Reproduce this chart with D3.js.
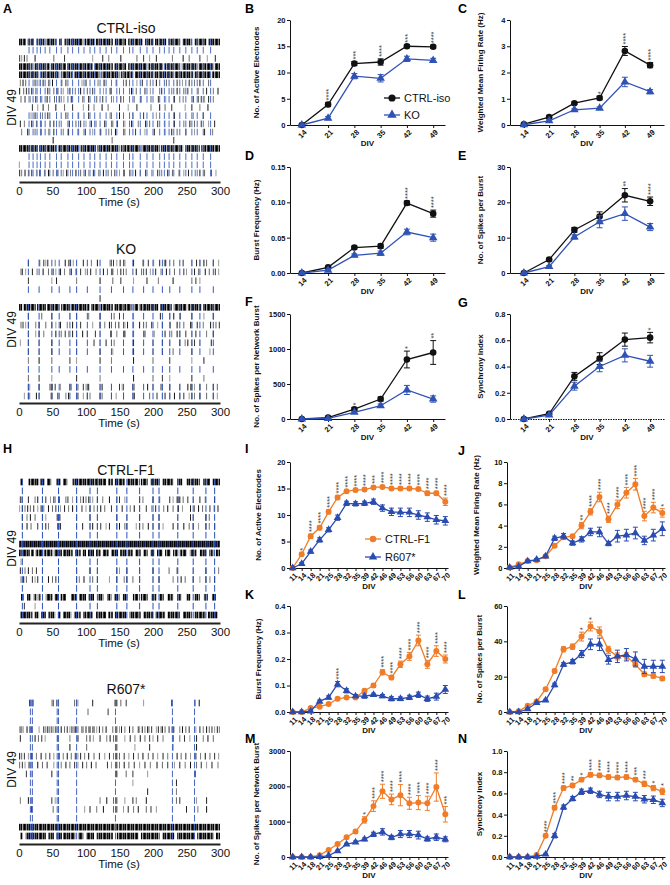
<!DOCTYPE html>
<html><head><meta charset="utf-8">
<script src="https://cdn.jsdelivr.net/npm/d3@7"></script>
<style>body{margin:0;background:#fff}svg{display:block}</style>
</head><body><script>
// ---------------- DATA ----------------
const divTop = [14,21,28,35,42,49];
const divBot = [11,14,18,21,25,28,32,35,39,42,46,49,53,56,60,63,67,70];
const legendTop = ["CTRL-iso","KO"];
const legendBot = ["CTRL-F1","R607*"];

// B
const ctrlB=[0,3.9,11.7,12.0,15.0,14.9], ctrlBe=[0.1,0.4,0.4,0.6,0.3,0.3];
const koB=[0,1.3,9.3,8.9,12.6,12.3], koBe=[0.1,0.3,0.5,0.7,0.5,0.4];
const starsB=['','****','***','****','***','****'];
// C
const ctrlC=[0.03,0.3,0.83,1.03,2.82,2.28], ctrlCe=[0.01,0.04,0.05,0.07,0.17,0.1];
const koC=[0.01,0.16,0.58,0.64,1.64,1.27], koCe=[0.01,0.03,0.04,0.05,0.18,0.08];
const starsC=['','','','*','****','****'];
// D
const ctrlD=[0,0.008,0.036,0.038,0.099,0.084], ctrlDe=[0,0.001,0.002,0.003,0.003,0.005];
const koD=[0,0.004,0.025,0.028,0.058,0.050], koDe=[0,0.001,0.002,0.003,0.004,0.005];
const starsD=['','','','','****','****'];
// E
const ctrlE=[0,3.8,12.2,16,22,20.3], ctrlEe=[0,0.4,0.7,1.3,1.9,1.2];
const koE=[0,1.8,10.2,14.5,16.8,13.0], koEe=[0,0.3,0.6,1.7,1.9,1.0];
const starsE=['','','','','**','****'];
// F
const ctrlF=[0,20,140,285,850,950], ctrlFe=[0,8,25,30,120,170];
const koF=[0,8,95,190,415,285], koFe=[0,4,15,25,65,45];
const starsF=['','','*','','*','**'];
// G
const ctrlG=[0,0.04,0.325,0.46,0.605,0.62], ctrlGe=[0,0.006,0.03,0.045,0.05,0.04];
const koG=[0,0.03,0.25,0.4,0.485,0.44], koGe=[0,0.005,0.03,0.04,0.05,0.045];
const starsG=['','','','','','*'];

// I
const ctrlI=[0,2.6,6.0,7.6,10.6,13.3,14.5,14.7,14.8,15.2,15.3,15.0,15.0,15.0,14.9,14.1,14.1,12.5];
const ctrlIe=[0,0.3,0.4,0.4,0.4,0.4,0.3,0.3,0.3,0.3,0.3,0.3,0.3,0.3,0.3,0.4,0.4,0.7];
const koI=[0,0.8,3.1,5.3,7.2,9.5,12.2,12.1,12.2,12.5,11.3,10.6,10.5,10.5,10.0,9.6,9.1,8.9];
const koIe=[0,0.2,0.3,0.4,0.4,0.5,0.4,0.4,0.4,0.5,0.6,0.7,0.8,0.8,0.8,0.8,0.8,0.8];
const starsI=['','*','****','****','****','****','****','****','****','***','****','****','****','****','****','****','****','****'];
// J
const ctrlJ=[0.05,0.35,0.65,0.72,1.1,2.1,2.9,3.0,4.0,5.3,6.7,4.6,6.0,7.1,7.9,4.9,5.7,5.2];
const ctrlJe=[0.02,0.05,0.08,0.08,0.1,0.15,0.15,0.15,0.3,0.3,0.45,0.3,0.4,0.5,0.55,0.45,0.5,0.4];
const koJ=[0.05,0.15,0.65,0.8,1.1,2.8,3.0,2.35,2.7,3.4,3.4,2.3,3.0,3.1,3.3,2.6,3.1,3.7];
const koJe=[0.02,0.05,0.08,0.1,0.1,0.2,0.25,0.2,0.25,0.35,0.45,0.2,0.55,0.55,0.55,0.4,0.55,0.65];
const starsJ=['','','','','','','','','**','****','****','****','****','****','****','****','****','*'];
// K
const ctrlK=[0,0,0.015,0.02,0.03,0.05,0.055,0.055,0.08,0.10,0.15,0.13,0.18,0.21,0.27,0.18,0.23,0.20];
const ctrlKe=[0,0,0.002,0.003,0.004,0.005,0.005,0.005,0.006,0.007,0.01,0.008,0.012,0.015,0.02,0.015,0.02,0.015];
const koK=[0,0,0.003,0.04,0.055,0.105,0.08,0.06,0.06,0.065,0.06,0.05,0.05,0.055,0.065,0.05,0.058,0.085];
const koKe=[0,0,0.002,0.005,0.006,0.01,0.008,0.006,0.008,0.006,0.006,0.008,0.007,0.008,0.01,0.01,0.013,0.015];
const starsK=['','','','','','****','','','','','****','****','****','****','****','****','****','****'];
// L
const ctrlL=[0,0.5,3.5,6,12.9,23.2,35.5,37,42.7,48.4,45.6,35.2,31.5,31.5,26.9,21.4,20.4,19];
const ctrlLe=[0,0.2,0.5,0.6,0.8,1,1.5,1.5,2.5,2.5,2.5,2,2,2,1.5,1.2,1.2,1.2];
const koL=[0,0,1.7,5.2,6.6,15.3,26.9,28.4,32.8,38.3,38.3,29.6,31.5,32.4,30,25.8,25.8,25.8];
const koLe=[0,0,0.4,0.5,0.6,1,1,1.2,2,3,3.5,2.5,3.5,3.5,4,4,3.5,3.5];
const starsL=['','','','','','','','','*','*','','','','','','','',''];
// M
const ctrlM=[0,0,0,50,200,370,560,720,1050,1440,1860,1630,1750,1520,1540,1520,1980,1210];
const ctrlMe=[0,0,0,10,20,30,40,50,90,150,200,150,300,170,200,200,400,220];
const koM=[0,0,0,5,40,170,360,420,500,640,710,550,650,650,620,510,560,500];
const koMe=[0,0,0,3,10,20,30,35,40,60,90,60,100,100,110,60,90,70];
const starsM=['','','','','','','','','*','****','****','****','****','****','****','****','****','***'];
// N
const ctrlN=[0,0,0,0.02,0.2,0.465,0.65,0.675,0.73,0.775,0.77,0.755,0.75,0.755,0.73,0.69,0.65,0.62];
const ctrlNe=[0,0,0,0.005,0.015,0.02,0.02,0.02,0.02,0.02,0.02,0.02,0.02,0.02,0.02,0.025,0.025,0.03];
const koN=[0,0,0,0.005,0.025,0.2,0.47,0.55,0.615,0.625,0.59,0.57,0.57,0.58,0.57,0.545,0.54,0.51];
const koNe=[0,0,0,0.003,0.01,0.02,0.02,0.02,0.025,0.025,0.03,0.04,0.04,0.04,0.04,0.035,0.035,0.035];
const starsN=['','','','','****','****','****','**','*','****','****','****','****','****','***','***','*','*'];

// ---------- Raster data (spike times in s) ----------
const rasterTicks=[0,50,100,150,200,250,300];
// CTRL-iso
const isoNB=[15,21,27,32,39,46,56,63,73,80,89,97,106,113,121,130,138,146,156,165,170,181,191,200,210,217,224,231,240,249,258,266,275,286];
const isoNBrows=[0,1,3,4,5,6,7,9,10,11,13,14,15,16];
const isoRows=[
 [],[],
 [1,4,8,12,24,52,68,110,125,134,152,176,186,195,205,229,245,254,270,281,293],
 [],[],
 [2,6,10,24,30,36,44,50,64,70,94,100,118,127,145,160,176,184,196,205,220,236,244,254,262,270,283],
 [1,7,11,14,19,25,43,52,58,66,76,84,92,102,110,126,136,150,168,175,188,196,213,228,236,246,252,268,280,290,297],
 [3,9,17,25,34,42,53,60,67,78,95,104,116,125,141,152,172,182,197,208,219,232,245,260,268,272,277,283,290],
 [20,28,36,44,55,68,80,96,104,112,124,133,150,163,176,197,210,218,228,248,258,270,282],
 [18,24,35,43,56,70,88,104,136,150,170,186,205,232,260,275],
 [2,8,19,26,33,47,52,60,75,85,92,100,108,115,128,140,147,158,168,178,189,195,207,218,232,246,255,262,272,283,292],
 [4,13,24,33,44,52,66,74,88,99,110,122,134,144,158,174,188,202,218,228,236,249,262,277,289],
 [51,139,231],
 [],[],[0.5],
 [1,4,9,14,19,26,31,38,44,51,58,66,71,77,85,92,99,104,111,119,126,133,143,150,157,167,174,181,189,198,207,213,222,229,239,246,253,263,270,277,287,294]
];
const isoDense=[
 [0,0,10],[0,13,22],[0,26,38],[0,40,55],[0,60,64],[0,68,95],[0,98,112],[0,115,140],[0,143,160],[0,163,185],[0,188,200],[0,203,220],[0,223,240],[0,244,258],[0,262,280],[0,283,300],
 [3,0,20],[3,23,45],[3,48,70],[3,72,88],[3,90,110],[3,113,140],[3,142,160],[3,163,190],[3,193,215],[3,218,240],[3,243,265],[3,268,290],[3,292,300],
 [4,0,30],[4,33,60],[4,63,80],[4,82,120],[4,123,150],[4,152,170],[4,173,200],[4,202,230],[4,233,260],[4,262,285],[4,288,300],
 [13,0,28],[13,30,56],[13,58,90],[13,92,115],[13,117,150],[13,152,180],[13,183,210],[13,212,245],[13,248,270],[13,272,300]
];
// KO
const koNB=[14,30,49,60,76,86,102,121,138,156,170,186,200,214,225,240,258,270,290];
const koNBrows=[0,1,3,5,6,7,8,9,10,12,14,15];
const koRows=[
 [14,31,37,40,43,54,69,74,77,81,96,108,117,136,141,146,151,158,171,185,193,201,210,217,219,231,245,258,265,270,276,280,290,298],
 [3,5,10,20,27,36,44,51,55,62,68,78,85,92,99,107,115,126,132,140,147,152,160,175,183,190,196,204,212,220,232,246,250,262,268,278,284,293,298],
 [14,49,56,86,121,140,152,171,191,208,230,258,264,270],
 [],
 [121],
 [],
 [14,34,49,76,86,104,121,142,150,171,211,225,231,241,258,276,290],
 [3,6,10,14,25,30,40,49,55,62,72,80,86,92,110,121,128,135,144,149,158,162,171,180,190,198,207,214,226,236,246,256,258,266,275,286,294,299],
 [14,25,30,37,55,63,69,74,80,86,95,102,114,121,137,146,158,171,188,202,218,228,236,240,249,258,264,280,290],
 [2,14,30,49,86,112,121,130,142,171,200,214,225,240,248,252,258,262,270,287],
 [14,30,49,86,121,140,171,200,214,230,258,285],
 [14,30,49,76,86,121,138,171,200,225,258,276],
 [],
 [14,30,49,86,121,171,200,214,225,258,276],
 [14,16,30,46,48,50,54,62,76,78,86,88,96,100,104,121,124,138,150,154,170,172,192,200,212,214,225,240,252,256,258,262,270,280,290,296],
 [8,14,16,26,30,48,50,58,70,74,86,88,96,102,106,121,124,138,145,156,170,172,195,206,214,218,225,232,240,246,254,258,262,270,280,290,296]
];
const koDense=[[5,0,5],[5,7,25],[5,27,40],[5,42,60],[5,63,76],[5,78,105],[5,108,120],[5,122,140],[5,142,168],[5,171,178],[5,180,208],[5,211,228],[5,231,250],[5,252,272],[5,275,300]];
// CTRL-F1
const f1NB=[5,35,59,86,106,117,146,161,180,200,209,237,260,279,292];
const f1NBrows=[0,1,2,3,4,5,6,7,8,9,10,11,12,13,14,15];
const f1Rows=[
 [],[],
 [2,4,14,24,28,35,40,47,52,54,60,70,73,80,86,92,96,100,104,110,117,125,135,146,150,158,180,185,200,210,225,230,236,238,240,245,252,260,270,278,292],
 [1,5,9,13,17,22,28,33,37,44,50,55,62,68,74,80,86,94,100,106,112,122,128,138,146,154,166,172,180,190,198,204,216,222,230,238,244,256,262,268,274,285,291,297],
 [5,12,17,24,35,40,57,59,61,86,106,117,146,161,180,200,209,237,256,260,279,284],
 [5,12,18,28,35,40,44,58,60,62,86,95,106,110,117,122,130,135,146,150,158,161,175,180,185,193,200,209,215,230,237,246,254,260,268,279,284,292],
 [],[],[],
 [3],
 [2,9,14,20,26,35,59,86,106,117,146,150,161,180,200,224,236,260,279,298],
 [3,7,11,20,24,28,35,44,50,55,59,86,90,97,110,117,135,146,157,161,170,180,200,209,230,242,248,260,270,279,285,292],
 [],[],
 [8,24],
 []
];
const f1Dense=[
 [0,2,6],[0,14,30],[0,32,38],[0,42,48],[0,56,62],[0,66,72],[0,80,130],[0,133,140],[0,143,158],[0,162,178],[0,182,192],[0,196,210],[0,214,230],[0,236,244],[0,250,270],[0,275,285],[0,289,300],
 [8,0,4],[8,6,16],[8,18,22],[8,25,35],[8,37,50],[8,52,58],[8,60,64],[8,66,80],[8,84,92],[8,95,100],[8,103,112],[8,115,122],[8,125,134],[8,138,148],[8,151,160],[8,163,170],[8,174,182],[8,186,192],[8,196,202],[8,206,214],[8,218,226],[8,230,236],[8,240,250],[8,255,265],[8,270,280],[8,284,290],[8,294,300],
 [13,3,7],[13,12,18],[13,22,26],[13,28,32],[13,40,50],[13,53,58],[13,62,70],[13,78,86],[13,90,100],[13,104,112],[13,118,126],[13,132,138],[13,142,150],[13,155,162],[13,170,178],[13,182,192],[13,198,205],[13,210,216],[13,222,230],[13,236,242],[13,250,256],[13,262,270],[13,276,282],[13,288,294],
 [15,2,20],[15,23,30],[15,33,40],[15,44,54],[15,58,62],[15,66,78],[15,82,92],[15,96,110],[15,115,130],[15,133,140],[15,143,160],[15,165,182],[15,186,200],[15,204,218],[15,222,240],[15,245,258],[15,262,278],[15,282,296]
];
const f1DenseBlue=[[7,0,300]];
// R607*
const rNB=[17,20,57,59,86,144,229,262];
const rNBrows=[0,1,2,3,4,5,6,7,8,9,10,11,12,13,14,15];
const rRows=[
 [16,19,21,49,51,56,59,83,86,88,110,143,146,152,160,186,228,263,269],
 [103,133],
 [],
 [1,3,6,12,16,19,30,37,40,43,46,49,52,55,59,63,68,72,76,79,82,84,88,94,96,100,104,106,110,112,116,120,125,130,140,146,150,153,158,165,170,178,180,184,188,192,194,198,205,208,212,214,218,224,228,231,240,244,249,254,264,270,275,280,284,288,292,296,299],
 [2,17,24,29,34,39,58,76,88,101,106,111,121,131,136,141,146,158,166,173,181,188,195,200,207,215,230,240,247,255,265,275,282,290],
 [59,76,101,146,173,195,230,265],
 [1,4,8,14,19,26,33,40,46,52,60,66,72,78,84,88,92,98,104,112,120,128,135,141,146,150,157,164,171,178,185,193,200,207,215,222,236,242,249,256,264,271,278,285,292,298],
 [1,5,9,15,19,28,35,42,52,59,63,70,76,83,88,95,101,108,115,132,138,146,150,157,164,172,180,188,196,206,214,222,232,240,248,256,265,272,280,288,297],
 [11,19,49,59,146,160,170,192,263],
 [170,235],
 [192,235],
 [2,14,19,49,54,59,121,131,141,146,158,170,175,190,235,240,265,280],
 [19,51,59,98,106,116,126,141,146,156,163,171,178,190,197,205,250,267,280],
 [],[],[]
];
const rDense=[[14,0,300],[15,2,6],[15,10,40],[15,44,52],[15,56,64],[15,66,84],[15,88,96],[15,100,112],[15,116,140],[15,146,178],[15,182,210],[15,214,232],[15,236,262],[15,266,290],[15,294,300]];

// ---------------- DRAWING ----------------
const FONT="'Liberation Sans', Arial, Helvetica, sans-serif";
const BLACK='#111', KOBLUE='#2f53b5', ORANGE='#f07c28', RBLUE='#2a4bb0';
const svg=d3.select('body').append('svg').attr('width',670).attr('height',885).style('font-family',FONT);
svg.append('rect').attr('width',670).attr('height',885).attr('fill','#fff');
const defs=svg.append('defs');
function mkPattern(id,cols){
  const p=defs.append('pattern').attr('id',id).attr('patternUnits','userSpaceOnUse').attr('width',cols.length).attr('height',10);
  cols.forEach((c,i)=>p.append('rect').attr('x',i).attr('width',1).attr('height',10).attr('fill',c));
}
mkPattern('dense',['#000','#222','#888','#111','#555','#000','#aaa','#333']);
mkPattern('denseBlue',['#0d1a55','#2a4bb0','#000','#1d3590','#111','#3a5bc0','#000','#22307a']);

function letter(t,x,y){svg.append('text').attr('x',x).attr('y',y).attr('font-weight','bold').attr('font-size',12.5).attr('fill','#000').text(t);}

function chart(p){
  const x=d3.scalePoint().domain(p.cats).range([p.x0,p.x1]).padding(p.pad);
  const y=d3.scaleLinear().domain([0,p.ymax]).range([p.y1,p.y0]);
  const g=svg.append('g');
  const ya=g.append('g').attr('transform',`translate(${p.x0},0)`)
    .call(d3.axisLeft(y).tickValues(p.ticks).tickFormat(d3.format(p.fmt)).tickSize(3).tickPadding(1.5).tickSizeOuter(0));
  const xa=g.append('g').attr('transform',`translate(0,${p.y1})`)
    .call(d3.axisBottom(x).tickSize(3).tickSizeOuter(0));
  xa.selectAll('text').attr('y',0).attr('dy','0.35em').attr('text-anchor','middle')
    .attr('transform','translate(0,9) rotate(-45)');
  [ya,xa].forEach(a=>{
    a.selectAll('.domain,.tick line').attr('stroke',BLACK).attr('stroke-width',1);
    a.selectAll('text').attr('font-family',FONT).attr('font-weight','bold').attr('font-size',7.5).attr('fill',BLACK);
  });
  if(p.dotted) xa.select('.domain').attr('stroke-dasharray','1.5,1');
  g.append('text').attr('transform',`translate(${p.ylx},${(p.y0+p.y1)/2}) rotate(-90)`)
    .attr('text-anchor','middle').attr('font-weight','bold').attr('font-size',8).attr('fill',BLACK).text(p.ylabel);
  g.append('text').attr('x',(p.x0+p.x1)/2).attr('y',p.y1+21).attr('text-anchor','middle')
    .attr('font-weight','bold').attr('font-size',8).attr('fill',BLACK).text('DIV');
  const cw=p.cap;
  p.series.forEach(s=>{
    const pts=p.cats.map((c,i)=>({c,v:s.v[i],e:s.e[i]}));
    const eg=g.append('g').attr('stroke',s.color).attr('stroke-width',1);
    eg.selectAll('line.v').data(pts.filter(d=>d.e>0)).join('line')
      .attr('x1',d=>x(d.c)).attr('x2',d=>x(d.c)).attr('y1',d=>y(Math.max(0,d.v-d.e))).attr('y2',d=>y(d.v+d.e));
    eg.selectAll('line.t').data(pts.filter(d=>d.e>0)).join('line')
      .attr('x1',d=>x(d.c)-cw).attr('x2',d=>x(d.c)+cw).attr('y1',d=>y(d.v+d.e)).attr('y2',d=>y(d.v+d.e));
    eg.selectAll('line.b').data(pts.filter(d=>d.e>0&&d.v-d.e>0)).join('line')
      .attr('x1',d=>x(d.c)-cw).attr('x2',d=>x(d.c)+cw).attr('y1',d=>y(d.v-d.e)).attr('y2',d=>y(d.v-d.e));
    g.append('path').datum(pts).attr('d',d3.line().x(d=>x(d.c)).y(d=>y(d.v)))
      .attr('fill','none').attr('stroke',s.color).attr('stroke-width',1.3);
    g.append('g').selectAll('path').data(pts).join('path')
      .attr('transform',d=>`translate(${x(d.c)},${y(d.v)})`)
      .attr('d',d3.symbol(s.shape,s.size)).attr('fill',s.color);
  });
  const st=p.cats.map((c,i)=>({c,s:p.stars[i],top:d3.max(p.series,s=>s.v[i]+s.e[i])})).filter(d=>d.s);
  g.append('g').selectAll('text').data(st).join('text')
    .attr('transform',d=>`translate(${x(d.c)+3.2},${y(d.top)-2}) rotate(-90)`)
    .attr('font-size',7.5).attr('fill','#333').text(d=>d.s);
  if(p.legend){
    const L=p.legend;
    L.labels.forEach((lab,i)=>{
      const s=p.series[i]; const yy=L.y+i*L.dy;
      g.append('line').attr('x1',L.x-8).attr('x2',L.x+8).attr('y1',yy).attr('y2',yy).attr('stroke',s.color).attr('stroke-width',1.3);
      g.append('path').attr('transform',`translate(${L.x},${yy})`).attr('d',d3.symbol(s.shape,s.size*1.2)).attr('fill',s.color);
      g.append('text').attr('x',L.x+12).attr('y',yy+4).attr('font-size',11).attr('fill','#111').text(lab);
    });
  }
}

const cir=d3.symbolCircle, tri=d3.symbolTriangle;
function topSeries(c,ce,k,ke){return [{v:c,e:ce,color:BLACK,shape:cir,size:34},{v:k,e:ke,color:KOBLUE,shape:tri,size:32}];}
function botSeries(c,ce,k,ke){return [{v:c,e:ce,color:ORANGE,shape:cir,size:28},{v:k,e:ke,color:RBLUE,shape:tri,size:26}];}

const L1={x0:290,x1:445,pad:0.45}, R1={x0:510,x1:664,pad:0.55};
const L2={x0:290,x1:448,pad:0.3}, R2={x0:507,x1:665,pad:0.3};
const rowsTop=[[20,125],[167,273],[314,419]];
const rowsBot=[[462,568],[606,712],[751,857]];

chart({...L1,cats:divTop,y0:rowsTop[0][0],y1:rowsTop[0][1],ymax:20,ticks:[0,5,10,15,20],fmt:'d',ylabel:'No. of Active Electrodes',ylx:259,cap:3,series:topSeries(ctrlB,ctrlBe,koB,koBe),stars:starsB,legend:{labels:legendTop,x:392,y:98,dy:17}});
chart({...R1,cats:divTop,y0:rowsTop[0][0],y1:rowsTop[0][1],ymax:4,ticks:[0,1,2,3,4],fmt:'d',ylabel:'Weighted Mean Firing Rate (Hz)',ylx:483,cap:3,series:topSeries(ctrlC,ctrlCe,koC,koCe),stars:starsC});
chart({...L1,cats:divTop,y0:rowsTop[1][0],y1:rowsTop[1][1],ymax:0.15,ticks:[0,0.05,0.1,0.15],fmt:'.2f',ylabel:'Burst Frequency (Hz)',ylx:259,cap:3,series:topSeries(ctrlD,ctrlDe,koD,koDe),stars:starsD});
chart({...R1,cats:divTop,y0:rowsTop[1][0],y1:rowsTop[1][1],ymax:30,ticks:[0,10,20,30],fmt:'d',ylabel:'No. of Spikes per Burst',ylx:483,cap:3,series:topSeries(ctrlE,ctrlEe,koE,koEe),stars:starsE});
chart({...L1,cats:divTop,y0:rowsTop[2][0],y1:rowsTop[2][1],ymax:1500,ticks:[0,500,1000,1500],fmt:'d',ylabel:'No. of Spikes per Network Burst',ylx:259,cap:3,series:topSeries(ctrlF,ctrlFe,koF,koFe),stars:starsF});
chart({...R1,cats:divTop,y0:rowsTop[2][0],y1:rowsTop[2][1],ymax:0.8,ticks:[0,0.2,0.4,0.6,0.8],fmt:'.1f',ylabel:'Synchrony Index',ylx:483,cap:3,dotted:true,series:topSeries(ctrlG,ctrlGe,koG,koGe),stars:starsG});

chart({...L2,cats:divBot,y0:rowsBot[0][0],y1:rowsBot[0][1],ymax:20,ticks:[0,5,10,15,20],fmt:'d',ylabel:'No. of Active Electrodes',ylx:261,cap:2.5,series:botSeries(ctrlI,ctrlIe,koI,koIe),stars:starsI,legend:{labels:legendBot,x:373,y:539,dy:18}});
chart({...R2,cats:divBot,y0:rowsBot[0][0],y1:rowsBot[0][1],ymax:10,ticks:[0,2,4,6,8,10],fmt:'d',ylabel:'Weighted Mean Firing Rate (Hz)',ylx:479,cap:2.5,series:botSeries(ctrlJ,ctrlJe,koJ,koJe),stars:starsJ});
chart({...L2,cats:divBot,y0:rowsBot[1][0],y1:rowsBot[1][1],ymax:0.4,ticks:[0,0.1,0.2,0.3,0.4],fmt:'.1f',ylabel:'Burst Frequency (Hz)',ylx:261,cap:2.5,series:botSeries(ctrlK,ctrlKe,koK,koKe),stars:starsK});
chart({...R2,cats:divBot,y0:rowsBot[1][0],y1:rowsBot[1][1],ymax:60,ticks:[0,20,40,60],fmt:'d',ylabel:'No. of Spikes per Burst',ylx:482,cap:2.5,series:botSeries(ctrlL,ctrlLe,koL,koLe),stars:starsL});
chart({...L2,cats:divBot,y0:rowsBot[2][0],y1:rowsBot[2][1],ymax:3000,ticks:[0,1000,2000,3000],fmt:'d',ylabel:'No. of Spikes per Network Burst',ylx:259,cap:2.5,series:botSeries(ctrlM,ctrlMe,koM,koMe),stars:starsM});
chart({...R2,cats:divBot,y0:rowsBot[2][0],y1:rowsBot[2][1],ymax:1.0,ticks:[0,0.2,0.4,0.6,0.8,1.0],fmt:'.1f',ylabel:'Synchrony Index',ylx:482,cap:2.5,series:botSeries(ctrlN,ctrlNe,koN,koNe),stars:starsN});

// Raster
function raster(r){
  const x=d3.scaleLinear().domain([0,300]).range([19,220]);
  const y=d3.scalePoint().domain(d3.range(r.rows.length)).range([r.rowTop,r.rowBot]);
  const h=6.6;
  const g=svg.append('g');
  g.append('text').attr('x',126).attr('y',r.titleY).attr('text-anchor','middle').attr('font-size',14).attr('fill','#111').text(r.title);
  g.append('text').attr('transform',`translate(16,${(r.rowTop+r.rowBot)/2}) rotate(-90)`).attr('text-anchor','middle').attr('font-size',12).attr('fill','#111').text('DIV 49');
  g.selectAll('rect.d').data(r.dense).join('rect').attr('x',d=>x(d[1])).attr('width',d=>x(d[2])-x(d[1]))
    .attr('y',d=>y(d[0])-h/2).attr('height',h).attr('fill','url(#dense)');
  g.selectAll('rect.db').data(r.denseBlue||[]).join('rect').attr('x',d=>x(d[1])).attr('width',d=>x(d[2])-x(d[1]))
    .attr('y',d=>y(d[0])-h/2).attr('height',h).attr('fill','url(#denseBlue)');
  const greys=['#111','#666','#333','#999','#222','#777'];
  r.rows.forEach((row,i)=>{
    g.append('g').selectAll('line').data(row).join('line')
      .attr('x1',d=>x(d)).attr('x2',d=>x(d)).attr('y1',y(i)-h/2).attr('y2',y(i)+h/2)
      .attr('stroke',(d,j)=>greys[(j+i)%greys.length]).attr('stroke-width',1);
  });
  r.nbRows.forEach(i=>{
    g.append('g').selectAll('line').data(r.nb).join('line')
      .attr('x1',d=>x(d)).attr('x2',d=>x(d)).attr('y1',y(i)-h/2).attr('y2',y(i)+h/2)
      .attr('stroke',r.nbColor).attr('stroke-width',1);
  });
  const ax=g.append('g').attr('transform',`translate(0,${r.axisY})`).call(d3.axisBottom(x).tickValues(rasterTicks).tickSize(0).tickSizeOuter(0));
  ax.select('.domain').attr('stroke','#222').attr('stroke-width',2);
  ax.selectAll('text').attr('y',13).attr('dy',0).attr('font-family',FONT).attr('font-size',11.5).attr('fill','#111');
  g.append('text').attr('x',119).attr('y',r.axisY+24).attr('text-anchor','middle').attr('font-size',11.5).attr('fill','#111').text('Time (s)');
}
raster({title:'CTRL-iso',titleY:33,rowTop:42,rowBot:173,axisY:182,rows:isoRows,dense:isoDense,nb:isoNB,nbRows:isoNBrows,nbColor:'#4f6fc6'});
raster({title:'KO',titleY:254,rowTop:263,rowBot:396,axisY:403,rows:koRows,dense:koDense,nb:koNB,nbRows:koNBrows,nbColor:'#3559c0'});
raster({title:'CTRL-F1',titleY:475,rowTop:482,rowBot:615,axisY:623,rows:f1Rows,dense:f1Dense,denseBlue:f1DenseBlue,nb:f1NB,nbRows:f1NBrows,nbColor:'#2a52be'});
raster({title:'R607*',titleY:694,rowTop:703,rowBot:836,axisY:844,rows:rRows,dense:rDense,nb:rNB,nbRows:rNBrows,nbColor:'#4565c4'});

// panel letters
letter('A',3,13); letter('B',245,13); letter('C',458,13);
letter('D',245,160); letter('E',458,160);
letter('F',245,306); letter('G',458,307);
letter('H',3,453); letter('I',245,453); letter('J',458,455);
letter('K',245,599); letter('L',458,599);
letter('M',245,743); letter('N',458,743);
</script></body></html>
